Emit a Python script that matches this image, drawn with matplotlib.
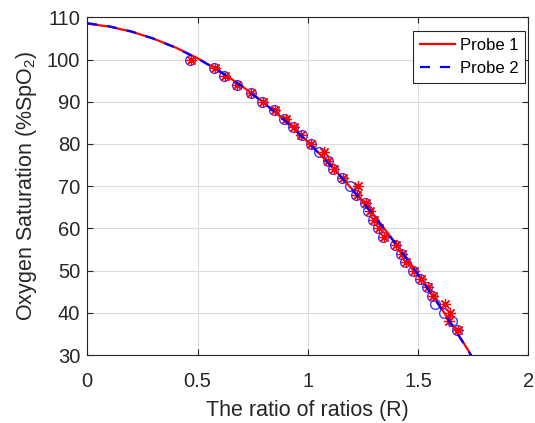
import matplotlib
matplotlib.use("Agg")
import matplotlib.pyplot as plt

plt.rcParams['font.family'] = ['Liberation Sans', 'DejaVu Sans']
plt.rcParams['mathtext.fontset'] = 'custom'
plt.rcParams['mathtext.rm'] = 'Liberation Sans'
plt.rcParams['mathtext.it'] = 'Liberation Sans:italic'

# Fitted calibration curves
curve_r = [0.0, 0.1, 0.2, 0.3, 0.4, 0.5, 0.6, 0.7, 0.8, 0.9, 1.0,
           1.1, 1.2, 1.3, 1.4, 1.5, 1.6, 1.7, 1.75]
curve_probe1 = [108.5, 107.8, 106.6, 104.95, 102.85, 100.3, 97.25, 93.75, 89.8,
                85.4, 80.5, 75.15, 69.35, 63.1, 56.35, 49.2, 41.5, 33.4, 29.2]
curve_probe2 = [108.6, 107.85, 106.65, 104.95, 102.8, 100.25, 97.2, 93.7, 89.75,
                85.35, 80.45, 75.1, 69.3, 63.0, 56.25, 49.05, 41.4, 33.3, 29.1]

# Measured points
spo2_levels = [100, 98, 96, 94, 92, 90, 88, 86, 84, 82, 80, 78, 76, 74, 72, 70,
               68, 66, 64, 62, 60, 58, 56, 54, 52, 50, 48, 46, 44, 42, 40, 38, 36]
r_probe1 = [0.470, 0.578, 0.624, 0.680, 0.744, 0.795, 0.851, 0.900, 0.938, 0.968,
            1.013, 1.072, 1.093, 1.120, 1.158, 1.229, 1.222, 1.262, 1.280, 1.300,
            1.322, 1.346, 1.398, 1.425, 1.446, 1.483, 1.514, 1.546, 1.569, 1.622,
            1.645, 1.640, 1.683]
r_probe2 = [0.466, 0.575, 0.621, 0.677, 0.741, 0.791, 0.848, 0.893, 0.934, 0.972,
            1.013, 1.050, 1.090, 1.116, 1.154, 1.190, 1.219, 1.259, 1.274, 1.294,
            1.317, 1.342, 1.395, 1.421, 1.441, 1.478, 1.509, 1.542, 1.565, 1.577,
            1.619, 1.653, 1.678]

x_ticks = [0, 0.5, 1, 1.5, 2]
x_ticklabels = ['0', '0.5', '1', '1.5', '2']
y_ticks = [30, 40, 50, 60, 70, 80, 90, 100, 110]

fig = plt.figure(figsize=(5.35, 4.23), dpi=100)
ax = fig.add_axes([87.3 / 535, (423 - 355) / 423, (528.3 - 87.3) / 535, (355 - 17.3) / 423])

ax.plot(r_probe2, spo2_levels, linestyle='none', marker='o', markersize=7,
        markerfacecolor='none', markeredgecolor='#3a3aff', markeredgewidth=1.0, zorder=3)
ax.plot(r_probe1, spo2_levels, linestyle='none', marker=(8, 2, 0), markersize=8,
        color='#ff0000', markeredgewidth=0.9, zorder=3)
ax.plot(curve_r, curve_probe1, color='#ff0000', linewidth=1.6, label='Probe 1', zorder=4)
ax.plot(curve_r, curve_probe2, color='#0000ff', linewidth=1.6, linestyle=(0, (4.5, 4.5)),
        label='Probe 2', zorder=5)

ax.set_xlim(0, 2)
ax.set_ylim(30, 110)
ax.set_xticks(x_ticks)
ax.set_xticklabels(x_ticklabels)
ax.set_yticks(y_ticks)
ax.grid(True, color='#dcdcdc', linewidth=0.8)
ax.set_axisbelow(True)
for s in ax.spines.values():
    s.set_color('#262626')
    s.set_linewidth(0.8)
ax.tick_params(direction='in', length=4, width=0.8, colors='#262626', labelsize=14.5,
               top=True, right=True, pad=5)
ax.tick_params(axis='x', pad=12)

ax.set_xlabel('The ratio of ratios (R)', fontsize=15.5, color='#262626', labelpad=7)
ax.set_ylabel('Oxygen Saturation (%SpO$_\\mathrm{2}$)', fontsize=15.5, color='#262626', labelpad=6)

leg = ax.legend(loc='upper right', bbox_to_anchor=(0.9925, 0.9594), fontsize=12,
                frameon=True, fancybox=False, edgecolor='#262626', framealpha=1,
                handlelength=2.1, borderaxespad=0.0, borderpad=0.4, labelspacing=0.5,
                handletextpad=0.3)
leg.get_frame().set_linewidth(0.8)

fig.savefig('out.png', dpi=100)
